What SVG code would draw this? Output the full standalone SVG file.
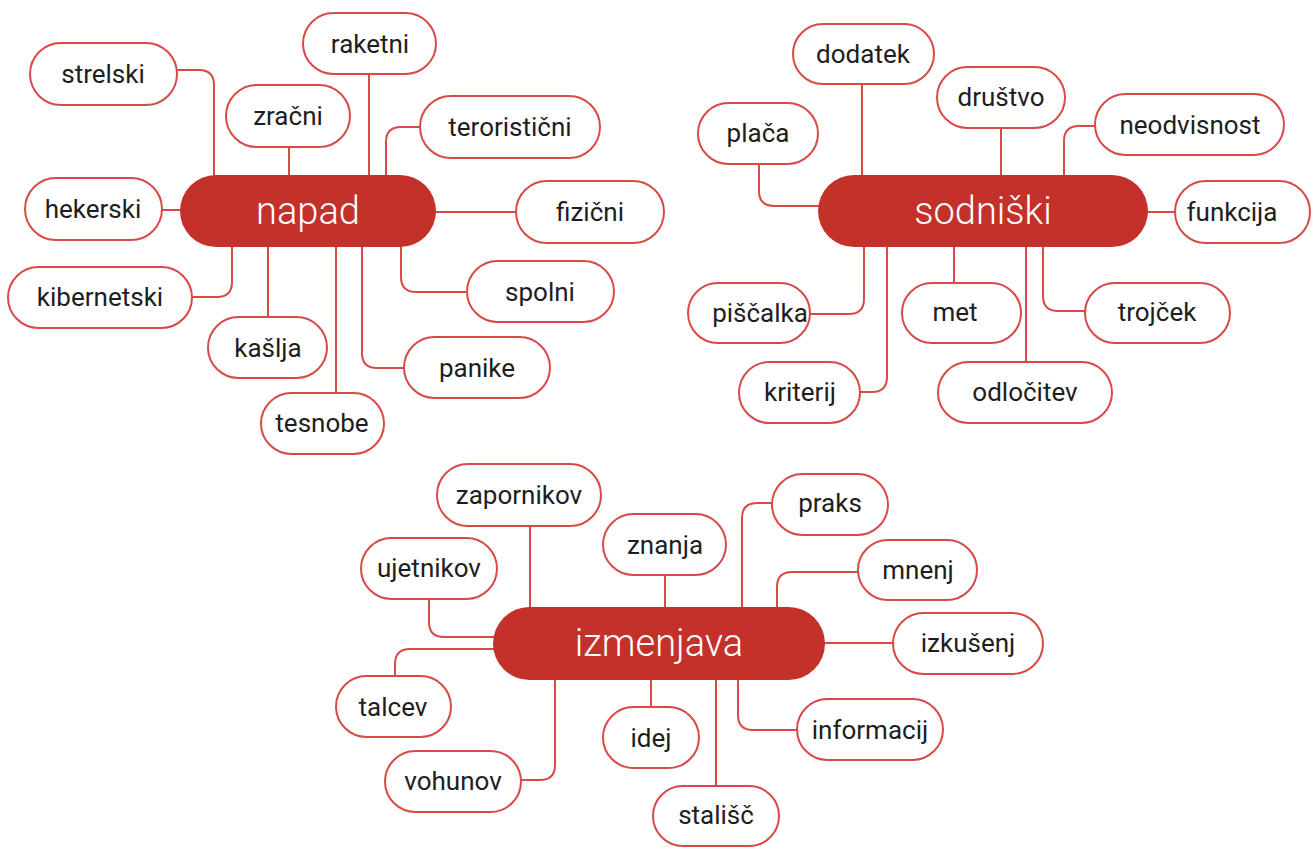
<svg xmlns="http://www.w3.org/2000/svg" width="1315" height="849" viewBox="0 0 1315 849">
<style>
.leaf rect{fill:#fff;stroke:#d64a47;stroke-width:2}
.leaf text{font-family:Roboto,"Liberation Sans",sans-serif;font-size:26px;fill:#1e1e1e;text-anchor:middle;dominant-baseline:central}
.hub rect{fill:#c4312b}
.hub text{font-family:Roboto,"Liberation Sans",sans-serif;font-size:38px;font-weight:300;fill:#fff;text-anchor:middle;dominant-baseline:central}
#connectors path{fill:none;stroke:#d64a47;stroke-width:2}
</style>
<rect width="1315" height="849" fill="#fff"/>
<g id="connectors">
<path d="M177,70 H199 Q214,70 214,85 V190"/>
<path d="M289,147 V190"/>
<path d="M369,74 V190"/>
<path d="M420,127 H401 Q386,127 386,142 V190"/>
<path d="M162,210 H200"/>
<path d="M420,212 H516"/>
<path d="M192,297 H217 Q232,297 232,282 V230"/>
<path d="M268,230 V317"/>
<path d="M336,230 V393"/>
<path d="M362,230 V353 Q362,368 377,368 H404"/>
<path d="M401,230 V277 Q401,292 416,292 H467"/>
<path d="M862,84 V190"/>
<path d="M1001,128 V190"/>
<path d="M759,164 V191 Q759,206 774,206 H830"/>
<path d="M1095,126 H1079 Q1064,126 1064,141 V190"/>
<path d="M1130,212 H1175"/>
<path d="M864,230 V299 Q864,314 849,314 H810"/>
<path d="M887,230 V377 Q887,392 872,392 H860"/>
<path d="M954,230 V283"/>
<path d="M1026,230 V362"/>
<path d="M1043,230 V296 Q1043,311 1058,311 H1085"/>
<path d="M530,526 V620"/>
<path d="M665,575 V620"/>
<path d="M772,503 H757 Q742,503 742,518 V620"/>
<path d="M858,572 H792 Q777,572 777,587 V620"/>
<path d="M429,599 V622 Q429,637 444,637 H505"/>
<path d="M505,649 H410 Q395,649 395,664 V676"/>
<path d="M810,643 H893"/>
<path d="M555,665 V765 Q555,780 540,780 H521"/>
<path d="M651,665 V707"/>
<path d="M716,665 V786"/>
<path d="M738,665 V715 Q738,730 753,730 H797"/>
</g>
<g id="napad" class="hub"><rect x="180" y="175" width="256" height="72" rx="36"/><text x="308" y="211">napad</text></g>
<g id="strelski" class="leaf"><rect x="30" y="43" width="147" height="62" rx="31"/><text x="103" y="74">strelski</text></g>
<g id="zracni" class="leaf"><rect x="226" y="85" width="124" height="62" rx="31"/><text x="288" y="116">zračni</text></g>
<g id="raketni" class="leaf"><rect x="303" y="13" width="133" height="61" rx="30.5"/><text x="370" y="44">raketni</text></g>
<g id="teroristicni" class="leaf"><rect x="420" y="96" width="180" height="62" rx="31"/><text x="510" y="127">teroristični</text></g>
<g id="hekerski" class="leaf"><rect x="25" y="178" width="137" height="62" rx="31"/><text x="93" y="209">hekerski</text></g>
<g id="fizicni" class="leaf"><rect x="516" y="181" width="148" height="62" rx="31"/><text x="590" y="212">fizični</text></g>
<g id="kibernetski" class="leaf"><rect x="8" y="267" width="184" height="61" rx="30.5"/><text x="100" y="297">kibernetski</text></g>
<g id="kaslja" class="leaf"><rect x="208" y="317" width="119" height="61" rx="30.5"/><text x="268" y="348">kašlja</text></g>
<g id="spolni" class="leaf"><rect x="467" y="261" width="147" height="61" rx="30.5"/><text x="540" y="292">spolni</text></g>
<g id="panike" class="leaf"><rect x="404" y="337" width="146" height="61" rx="30.5"/><text x="477" y="368">panike</text></g>
<g id="tesnobe" class="leaf"><rect x="261" y="393" width="123" height="61" rx="30.5"/><text x="322" y="423">tesnobe</text></g>
<g id="sodniski" class="hub"><rect x="818" y="175" width="330" height="72" rx="36"/><text x="983" y="211">sodniški</text></g>
<g id="dodatek" class="leaf"><rect x="793" y="24" width="141" height="60" rx="30"/><text x="863" y="54">dodatek</text></g>
<g id="placa" class="leaf"><rect x="698" y="103" width="120" height="61" rx="30.5"/><text x="758" y="133">plača</text></g>
<g id="drustvo" class="leaf"><rect x="937" y="67" width="128" height="61" rx="30.5"/><text x="1001" y="97">društvo</text></g>
<g id="neodvisnost" class="leaf"><rect x="1095" y="94" width="189" height="61" rx="30.5"/><text x="1190" y="125">neodvisnost</text></g>
<g id="funkcija" class="leaf"><rect x="1175" y="181" width="135" height="62" rx="31"/><text x="1232" y="212">funkcija</text></g>
<g id="piscalka" class="leaf"><rect x="688" y="283" width="122" height="60" rx="30"/><text x="760" y="313">piščalka</text></g>
<g id="met" class="leaf"><rect x="902" y="283" width="119" height="60" rx="30"/><text x="955" y="312">met</text></g>
<g id="trojcek" class="leaf"><rect x="1085" y="283" width="145" height="60" rx="30"/><text x="1157" y="312">trojček</text></g>
<g id="kriterij" class="leaf"><rect x="739" y="362" width="121" height="61" rx="30.5"/><text x="800" y="392">kriterij</text></g>
<g id="odlocitev" class="leaf"><rect x="938" y="362" width="174" height="61" rx="30.5"/><text x="1025" y="392">odločitev</text></g>
<g id="izmenjava" class="hub"><rect x="493" y="607" width="332" height="73" rx="36.5"/><text x="659" y="643">izmenjava</text></g>
<g id="zapornikov" class="leaf"><rect x="437" y="464" width="164" height="62" rx="31"/><text x="519" y="495">zapornikov</text></g>
<g id="znanja" class="leaf"><rect x="603" y="514" width="123" height="61" rx="30.5"/><text x="665" y="545">znanja</text></g>
<g id="praks" class="leaf"><rect x="772" y="474" width="116" height="61" rx="30.5"/><text x="830" y="503">praks</text></g>
<g id="ujetnikov" class="leaf"><rect x="361" y="538" width="136" height="61" rx="30.5"/><text x="429" y="568">ujetnikov</text></g>
<g id="mnenj" class="leaf"><rect x="858" y="540" width="119" height="60" rx="30"/><text x="918" y="570">mnenj</text></g>
<g id="izkusenj" class="leaf"><rect x="893" y="613" width="150" height="61" rx="30.5"/><text x="968" y="643">izkušenj</text></g>
<g id="talcev" class="leaf"><rect x="336" y="676" width="115" height="61" rx="30.5"/><text x="393" y="707">talcev</text></g>
<g id="idej" class="leaf"><rect x="603" y="707" width="96" height="61" rx="30.5"/><text x="651" y="738">idej</text></g>
<g id="informacij" class="leaf"><rect x="797" y="699" width="146" height="61" rx="30.5"/><text x="870" y="730">informacij</text></g>
<g id="vohunov" class="leaf"><rect x="385" y="751" width="136" height="61" rx="30.5"/><text x="453" y="781">vohunov</text></g>
<g id="stalisc" class="leaf"><rect x="653" y="786" width="126" height="60" rx="30"/><text x="716" y="815">stališč</text></g>
</svg>
